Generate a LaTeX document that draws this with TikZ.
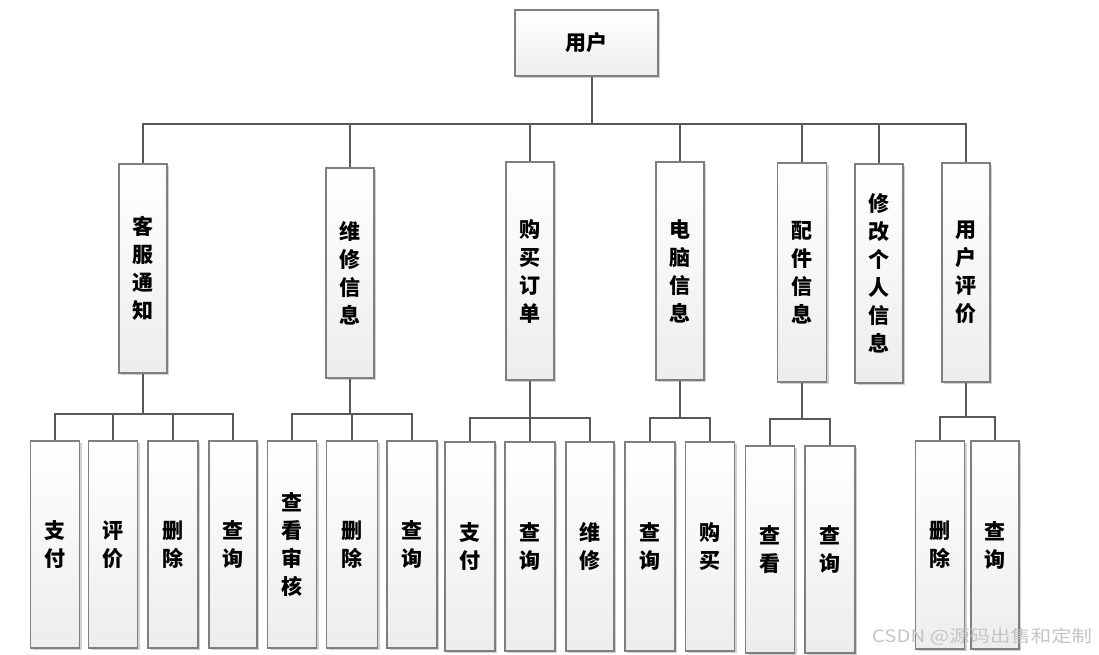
\documentclass[tikz,border=0pt]{standalone}
\usepackage{fontspec}
\newfontfamily\cjk{Noto Sans CJK SC}
\usetikzlibrary{shadows}
\definecolor{linec}{HTML}{595959}
\definecolor{boxc}{HTML}{7F7F7F}
\definecolor{boxbot}{HTML}{EDEDED}
\definecolor{wmark}{HTML}{C4C4C4}
\tikzset{
  box/.style={draw=boxc, line width=1.2pt, top color=white, bottom color=boxbot,
    align=center, inner sep=0pt,
    font=\cjk\bfseries\fontsize{21}{28}\selectfont,
    drop shadow={shadow xshift=2pt, shadow yshift=-2pt, fill=black, opacity=0.18}},
  conn/.style={draw=linec, line width=1.6pt},
}
\begin{document}
\begin{tikzpicture}[x=1pt,y=-1pt]
\useasboundingbox (0,0) rectangle (1099,655);
% root
\node[box, minimum width=143pt, minimum height=66pt] (root) at (586.5,43) {用户};
% level 1
\node[box, minimum width=48pt, minimum height=209pt] (kf) at (143,268.5) {客\\服\\通\\知};
\node[box, minimum width=48pt, minimum height=210pt] (wx) at (350,273) {维\\修\\信\\息};
\node[box, minimum width=48pt, minimum height=218pt] (gm) at (530,271) {购\\买\\订\\单};
\node[box, minimum width=48pt, minimum height=218pt] (dn) at (680,271) {电\\脑\\信\\息};
\node[box, minimum width=49pt, minimum height=219pt] (pj) at (802,272.5) {配\\件\\信\\息};
\node[box, minimum width=48pt, minimum height=219pt] (xg) at (879,273.5) {修\\改\\个\\人\\信\\息};
\node[box, minimum width=48pt, minimum height=219pt] (pl) at (966,272.5) {用\\户\\评\\价};
% level 2: kf
\node[box, minimum width=49pt, minimum height=207pt] (kf1) at (55,544.5) {支\\付};
\node[box, minimum width=49pt, minimum height=207pt] (kf2) at (113,544.5) {评\\价};
\node[box, minimum width=50pt, minimum height=207pt] (kf3) at (173,544.5) {删\\除};
\node[box, minimum width=48pt, minimum height=207pt] (kf4) at (233,544.5) {查\\询};
% wx
\node[box, minimum width=49pt, minimum height=207pt] (wx1) at (292,544.5) {查\\看\\审\\核};
\node[box, minimum width=51pt, minimum height=207pt] (wx2) at (352,544.5) {删\\除};
\node[box, minimum width=50pt, minimum height=207pt] (wx3) at (412,544.5) {查\\询};
% gm
\node[box, minimum width=50pt, minimum height=209pt] (gm1) at (470,546.5) {支\\付};
\node[box, minimum width=50pt, minimum height=209pt] (gm2) at (530,546.5) {查\\询};
\node[box, minimum width=48pt, minimum height=209pt] (gm3) at (590,546.5) {维\\修};
% dn
\node[box, minimum width=50pt, minimum height=209pt] (dn1) at (650,546.5) {查\\询};
\node[box, minimum width=49pt, minimum height=209pt] (dn2) at (710,546.5) {购\\买};
% pj
\node[box, minimum width=49pt, minimum height=207pt] (pj1) at (770,549.5) {查\\看};
\node[box, minimum width=50pt, minimum height=207pt] (pj2) at (830,549.5) {查\\询};
% pl
\node[box, minimum width=49pt, minimum height=208pt] (pl1) at (940,545) {删\\除};
\node[box, minimum width=48pt, minimum height=208pt] (pl2) at (995,545) {查\\询};
% bus coordinates
\coordinate (b0) at (0,124);
\coordinate (bkf) at (0,414);
\coordinate (bwx) at (0,414);
\coordinate (bgm) at (0,418);
\coordinate (bdn) at (0,418);
\coordinate (bpj) at (0,419);
\coordinate (bpl) at (0,417);
\coordinate (rt) at ([xshift=5.5pt]root.south);
% top-level connectors
\draw[conn] (rt) -- (rt |- b0);
\foreach \c in {kf,wx,gm,dn,pj,xg,pl}
  \draw[conn] (rt |- b0) -| (\c.north);
% sub connectors
\draw[conn] (kf.south) -- (kf.south |- bkf);
\foreach \c in {kf1,kf2,kf3,kf4}
  \draw[conn] (kf.south |- bkf) -| (\c.north);
\draw[conn] (wx.south) -- (wx.south |- bwx);
\foreach \c in {wx1,wx2,wx3}
  \draw[conn] (wx.south |- bwx) -| (\c.north);
\draw[conn] (gm.south) -- (gm.south |- bgm);
\foreach \c in {gm1,gm2,gm3}
  \draw[conn] (gm.south |- bgm) -| (\c.north);
\draw[conn] (dn.south) -- (dn.south |- bdn);
\foreach \c in {dn1,dn2}
  \draw[conn] (dn.south |- bdn) -| (\c.north);
\draw[conn] (pj.south) -- (pj.south |- bpj);
\foreach \c in {pj1,pj2}
  \draw[conn] (pj.south |- bpj) -| (\c.north);
\draw[conn] (pl.south) -- (pl.south |- bpl);
\foreach \c in {pl1,pl2}
  \draw[conn] (pl.south |- bpl) -| (\c.north);
% watermark
\node[text=wmark, inner sep=0pt, xscale=1.2, font=\cjk\fontsize{17}{20}\selectfont] (wm) at (982,637) {CSDN @源码出售和定制};
\end{tikzpicture}
\end{document}
